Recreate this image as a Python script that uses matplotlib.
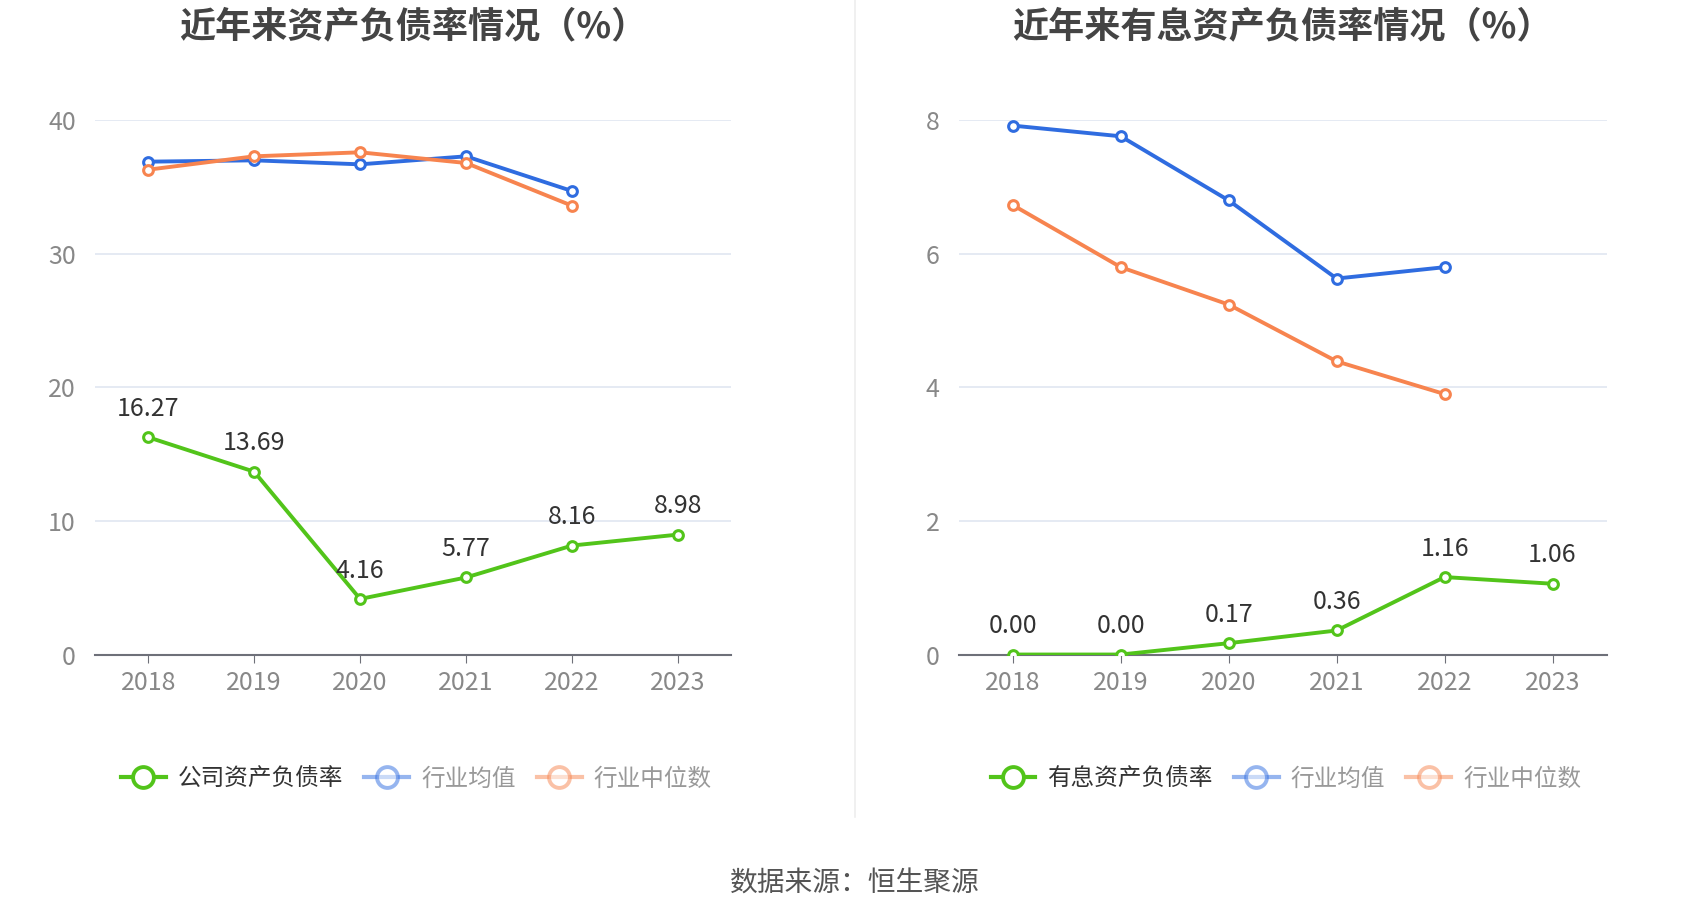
#plot.py
#two line charts: debt ratio of company vs industry
import matplotlib.pyplot as plt
from matplotlib.lines import Line2D

plt.rcParams['font.family'] = ['Noto Sans CJK SC', 'DejaVu Sans']

years = ["2018", "2019", "2020", "2021", "2022", "2023"]

#left chart
debt_ratio = [16.27, 13.69, 4.16, 5.77, 8.16, 8.98]
debt_avg = [36.9, 37.0, 36.7, 37.3, 34.7]
debt_median = [36.3, 37.3, 37.6, 36.8, 33.6]

#right chart
int_debt_ratio = [0.00, 0.00, 0.17, 0.36, 1.16, 1.06]
int_debt_avg = [7.92, 7.76, 6.80, 5.63, 5.80]
int_debt_median = [6.73, 5.80, 5.24, 4.39, 3.90]

green = "#52c41a"
blue = "#2f6ce0"
orange = "#f7844f"


def draw(ax, title, main, avg, med, main_name, ymax, yticks):
    x = list(range(len(years)))
    ax.plot(x[:len(avg)], avg, color=blue, lw=2.8, marker="o", ms=7,
            mfc="white", mec=blue, mew=2.2, zorder=3)
    ax.plot(x[:len(med)], med, color=orange, lw=2.8, marker="o", ms=7,
            mfc="white", mec=orange, mew=2.2, zorder=3)
    ax.plot(x, main, color=green, lw=2.8, marker="o", ms=7,
            mfc="white", mec=green, mew=2.2, zorder=4)
    for i, v in enumerate(main):
        ax.annotate("%.2f" % v, (i, v), xytext=(0, 11), textcoords="offset points",
                    ha="center", va="bottom", fontsize=18, color="#333333", zorder=5)

    ax.set_xlim(-0.5, len(years) - 0.5)
    ax.set_ylim(0, ymax)
    ax.set_yticks(yticks)
    ax.set_xticks(x)
    ax.set_xticklabels(years)
    ax.grid(axis="y", color="#e0e6f1", lw=1.2)
    ax.set_axisbelow(True)
    for s in ["top", "right", "left"]:
        ax.spines[s].set_visible(False)
    ax.spines["bottom"].set_color("#6e7079")
    ax.spines["bottom"].set_linewidth(1.5)
    ax.tick_params(axis="y", length=0, labelsize=18, labelcolor="#888888", pad=14)
    ax.tick_params(axis="x", length=6, color="#6e7079", labelsize=18,
                   labelcolor="#888888", pad=5)
    ax.set_title(title, fontsize=26, fontweight="bold", color="#444444", pad=60)

    handles = [
        Line2D([], [], color=green, lw=3, marker="o", ms=15, mfc="white", mec=green, mew=2.8),
        Line2D([], [], color=blue, lw=3, marker="o", ms=15, mfc="white", mec=blue, mew=2.8, alpha=0.5),
        Line2D([], [], color=orange, lw=3, marker="o", ms=15, mfc="white", mec=orange, mew=2.8, alpha=0.5),
    ]
    leg = ax.legend(handles, [main_name, "行业均值", "行业中位数"], ncol=3,
                    loc="upper center", bbox_to_anchor=(0.505, -0.172), frameon=False,
                    fontsize=17, handlelength=1.9, columnspacing=0.9, handletextpad=0.5)
    cols = ["#333333", "#999999", "#999999"]
    for t, c in zip(leg.get_texts(), cols):
        t.set_color(c)


fig = plt.figure(figsize=(17, 9.18), dpi=100)
ax1 = fig.add_axes([0.056, 0.287, 0.374, 0.582])
ax2 = fig.add_axes([0.564, 0.287, 0.381, 0.582])

draw(ax1, "近年来资产负债率情况（%）", debt_ratio, debt_avg, debt_median,
     "公司资产负债率", 40, [0, 10, 20, 30, 40])
draw(ax2, "近年来有息资产负债率情况（%）", int_debt_ratio, int_debt_avg, int_debt_median,
     "有息资产负债率", 8, [0, 2, 4, 6, 8])

#divider
fig.add_artist(Line2D([0.503, 0.503], [0.11, 1.0], color="#eeeeee", lw=1.2))

fig.text(0.503, 0.037, "数据来源：恒生聚源", ha="center", va="center",
         fontsize=20, color="#555555")

fig.savefig("out.png", dpi=100)
